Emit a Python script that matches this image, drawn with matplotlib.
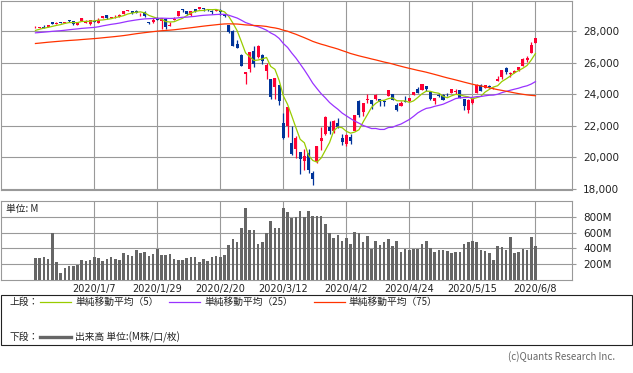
import pandas as pd
from matplotlib import pyplot as plt
from matplotlib.lines import Line2D
from matplotlib.patches import Rectangle

W, H = 633, 373
JP = ['Noto Sans CJK JP', 'DejaVu Sans']

UP = '#ff0033'
DOWN = '#003399'
GRID = '#999999'

# closes before the first bar (2019/8/30 - 2019/12/13), only used for the moving averages
pre_close = [26403,
             26118, 26355, 26728, 26797, 26835, 26909, 27137, 27182, 27220, 27076,
             27111, 27147, 27094, 26935, 26950, 26808, 26971, 26891, 26820, 26917,
             26573, 26079, 26201, 26573, 26478, 26164, 26347, 26497, 26817, 26787,
             27025, 27002, 27026, 26770, 26828, 26788, 26834, 26805, 26958, 27091,
             27071, 27186, 27046,
             27347, 27462, 27493, 27493, 27675, 27681, 27691, 27691, 27784, 27782,
             28005, 28036, 27934, 27821, 27767, 27876, 28067, 28122, 28165, 28051,
             27783, 27503, 27650, 27678, 28015, 27910, 27882, 27911, 28132, 28135]

# daily bars 2019/12/16 - 2020/6/8
open_vals = [28191, 28242, 28279, 28282, 28580, 28491, 28572, 28539, 28676, 28654,
             28415, 28638, 28553, 28465, 28640, 28556, 28874, 29019, 28826, 28891,
             28935, 29082, 29313, 29273, 29263, 29138, 29232, 28542, 28595, 28820,
             28640, 28813, 28319, 28697, 28966, 29388, 29287, 29040, 29390, 29407,
             29439, 29440, 29280, 29300, 29388, 29134, 28402, 28033, 27227, 26519,
             25270, 25591, 26762, 26383, 26519, 25457, 24992, 24453, 24604, 22184,
             21973, 20917, 20524, 20362, 19734, 20253, 19028, 19722, 21050, 21468,
             21898, 21678, 22208, 21227, 20819, 21285, 21693, 23590, 22857, 23639,
             23625, 23695, 23716, 23540, 23861, 24017, 23303, 23273, 23530, 23598,
             23951, 24364, 24275, 24512, 24120, 23581, 23972, 23960, 23885, 24077,
             24142, 24247, 23699, 23031, 23470, 24095, 24604, 24431, 24522, 24441,
             24850, 25069, 25641, 25286, 25342, 25539, 25830, 26195, 26616, 27232]
high_vals = [28337, 28291, 28377, 28377, 28608, 28582, 28576, 28622, 28702, 28654,
             28548, 28872, 28716, 28708, 28686, 28866, 28987, 29057, 28909, 29010,
             29127, 29298, 29374, 29273, 29373, 29196, 29269, 28585, 28832, 28892,
             28879, 28879, 28592, 28903, 29301, 29408, 29287, 29277, 29415, 29568,
             29511, 29441, 29328, 29406, 29414, 29134, 28402, 28111, 27441, 26574,
             25441, 26706, 27084, 27102, 26565, 25994, 24992, 25020, 24604, 22837,
             23189, 21988, 21356, 20362, 20531, 20531, 19121, 20705, 21914, 22595,
             22327, 22378, 22480, 21451, 21477, 21447, 22680, 23623, 23435, 24008,
             23625, 24023, 23716, 23624, 24264, 24034, 23473, 23568, 23876, 23775,
             24143, 24440, 24671, 24525, 24120, 23766, 24080, 24011, 24089, 24348,
             24332, 24248, 23726, 23675, 23704, 24647, 24650, 24618, 24586, 24475,
             25148, 25548, 25758, 25427, 25572, 25744, 26290, 26414, 27337, 27580]
low_vals = [28191, 28225, 28233, 28270, 28445, 28491, 28503, 28535, 28608, 28420,
            28376, 28627, 28500, 28418, 28565, 28502, 28832, 28779, 28819, 28860,
            28891, 29082, 29289, 29126, 29169, 28945, 28886, 28440, 28535, 28723,
            28170, 28170, 28319, 28697, 28966, 29224, 29063, 29006, 29221, 29407,
            29302, 29294, 29127, 29273, 29051, 28896, 27921, 27059, 26939, 25767,
            24681, 25391, 25706, 26286, 25914, 24977, 23706, 23690, 23328, 21154,
            21285, 20116, 19958, 18917, 19177, 19010, 18213, 19649, 20464, 21427,
            21469, 21522, 21888, 20784, 20735, 20863, 21693, 22581, 22607, 23461,
            23078, 23615, 23282, 23265, 23861, 23632, 22941, 23273, 23483, 23496,
            23951, 24094, 24275, 24193, 23645, 23401, 23835, 23640, 23870, 24077,
            24026, 23764, 22995, 22789, 23379, 24095, 24196, 24393, 24384, 24315,
            24840, 24981, 25285, 25114, 25342, 25485, 25830, 26079, 26616, 27232]
close_vals = [28236, 28267, 28239, 28377, 28455, 28552, 28515, 28621, 28645, 28462,
              28538, 28869, 28635, 28703, 28584, 28745, 28957, 28824, 28907, 28940,
              29030, 29298, 29348, 29196, 29186, 29160, 28990, 28536, 28723, 28734,
              28859, 28256, 28400, 28808, 29291, 29380, 29103, 29277, 29276, 29551,
              29423, 29398, 29232, 29348, 29220, 28992, 27961, 27081, 26958, 25767,
              25409, 26703, 25917, 27091, 26121, 25865, 23851, 25018, 23553, 21201,
              23186, 20189, 21237, 19899, 20087, 19174, 18592, 20705, 21201, 22552,
              21637, 22327, 21917, 20944, 21413, 21053, 22680, 22654, 23434, 23719,
              23391, 23950, 23504, 23538, 24242, 23650, 23019, 23476, 23515, 23775,
              24134, 24102, 24634, 24346, 23724, 23750, 23883, 23665, 23876, 24331,
              24222, 23765, 23248, 23625, 23685, 24597, 24207, 24576, 24474, 24465,
              24995, 25548, 25401, 25383, 25475, 25743, 26270, 26282, 27111, 27572]
# volume in millions
volume_vals = [279, 279, 292, 267, 600, 229, 92, 154, 179, 179,
               196, 250, 242, 258, 292, 279, 238, 267, 288, 263,
               254, 338, 313, 300, 375, 342, 350, 300, 325, 396,
               313, 313, 325, 263, 250, 250, 275, 296, 288, 225,
               263, 242, 288, 308, 290, 320, 446, 513, 475, 659,
               909, 638, 638, 450, 475, 596, 750, 655, 663, 913,
               867, 780, 792, 875, 792, 875, 804, 804, 804, 708,
               592, 534, 571, 500, 530, 450, 613, 592, 480, 563,
               396, 488, 438, 475, 525, 425, 488, 354, 388, 375,
               388, 396, 458, 488, 408, 354, 375, 375, 363, 342,
               350, 350, 458, 475, 488, 475, 375, 363, 338, 250,
               425, 413, 375, 538, 342, 350, 396, 375, 538, 425]

tick_pos = [14, 29, 44, 59, 74, 89, 104, 119]
tick_labels = ['2020/1/7', '2020/1/29', '2020/2/20', '2020/3/12',
               '2020/4/2', '2020/4/24', '2020/5/15', '2020/6/8']
price_ticks = [18000, 20000, 22000, 24000, 26000, 28000]
volume_ticks = [200, 400, 600, 800]

ma_periods = [5, 25, 75]
ma_colors = ['#99cc00', '#9933ff', '#ff3300']
ma_labels = ['単純移動平均（5）', '単純移動平均（25）', '単純移動平均（75）']


def fx(x):
    return x / W


def fy(y):
    return 1 - y / H


def moving_average(n):
    s = pd.Series(pre_close + close_vals).rolling(n).mean()
    return s.iloc[len(pre_close):].values


def style_axes(ax):
    for sp in ax.spines.values():
        sp.set_color(GRID)
        sp.set_linewidth(0.8)
    ax.grid(True, color=GRID, linewidth=0.8)
    ax.set_axisbelow(True)
    ax.yaxis.tick_right()
    ax.tick_params(axis='y', length=3, color=GRID, labelsize=7.5,
                   labelcolor='#222222', pad=5)
    ax.set_xlim(-8.2, 127.7)
    ax.set_xticks(tick_pos)


def draw_candles(ax):
    x = list(range(len(close_vals)))
    colors = [UP if c > o else DOWN for o, c in zip(open_vals, close_vals)]
    ax.vlines(x, low_vals, high_vals, colors=colors, linewidth=0.9, zorder=3)
    bottoms = [min(o, c) for o, c in zip(open_vals, close_vals)]
    heights = [max(abs(c - o), 45) for o, c in zip(open_vals, close_vals)]
    ax.bar(x, heights, bottom=bottoms, width=0.72, color=colors, linewidth=0, zorder=4)
    for n, col in zip(ma_periods, ma_colors):
        ax.plot(x, moving_average(n), color=col, linewidth=0.9, zorder=5)


fig = plt.figure(figsize=(W / 100, H / 100), dpi=100)

ax = fig.add_axes([fx(1), fy(190), fx(571), (190 - 0.5) / H])
style_axes(ax)
draw_candles(ax)
ax.set_ylim(17920, 29960)
ax.set_yticks(price_ticks)
ax.set_yticklabels([f'{v:,}' for v in price_ticks])
ax.tick_params(axis='x', length=0, labelbottom=False)

axv = fig.add_axes([fx(1), fy(280), fx(571), 79 / H])
style_axes(axv)
axv.bar(range(len(volume_vals)), volume_vals, width=0.62, color='#666666', linewidth=0, zorder=3)
axv.set_ylim(0, 1000)
axv.set_yticks(volume_ticks)
axv.set_yticklabels([f'{v}M' for v in volume_ticks])
axv.set_xticklabels(tick_labels)
axv.tick_params(axis='x', length=0, labelsize=7, labelcolor='#222222', pad=3)
axv.text(0.008, 0.9, '単位: M', transform=axv.transAxes, fontsize=7,
         family=JP, va='center', ha='left', color='#222222')

# legend box
fig.add_artist(Rectangle((fx(0.5), fy(345)), fx(631), (345 - 295) / H,
                         transform=fig.transFigure, fill=False,
                         edgecolor='#222222', linewidth=0.8))
fig.text(fx(9), fy(302), '上段：', family=JP, fontsize=7, va='center', color='#222222')
line_x = [(40, 71, 75), (169, 200, 204), (314, 345, 348)]
for (x0, x1, tx), col, lab in zip(line_x, ma_colors, ma_labels):
    fig.add_artist(Line2D([fx(x0), fx(x1)], [fy(302), fy(302)], color=col,
                          linewidth=0.9, transform=fig.transFigure))
    fig.text(fx(tx), fy(302), lab, family=JP, fontsize=7, va='center', color='#222222')

fig.text(fx(9), fy(337), '下段：', family=JP, fontsize=7, va='center', color='#222222')
fig.add_artist(Line2D([fx(40), fx(71)], [fy(337), fy(337)], color='#666666',
                      linewidth=2.4, transform=fig.transFigure))
fig.text(fx(75), fy(337), '出来高 単位:(M株/口/枚)', family=JP, fontsize=7,
         va='center', color='#222222')

fig.text(fx(615), fy(357), '(c)Quants Research Inc.', family=JP, fontsize=7,
         ha='right', va='center', color='#666666')

fig.savefig('out.png', dpi=100)
